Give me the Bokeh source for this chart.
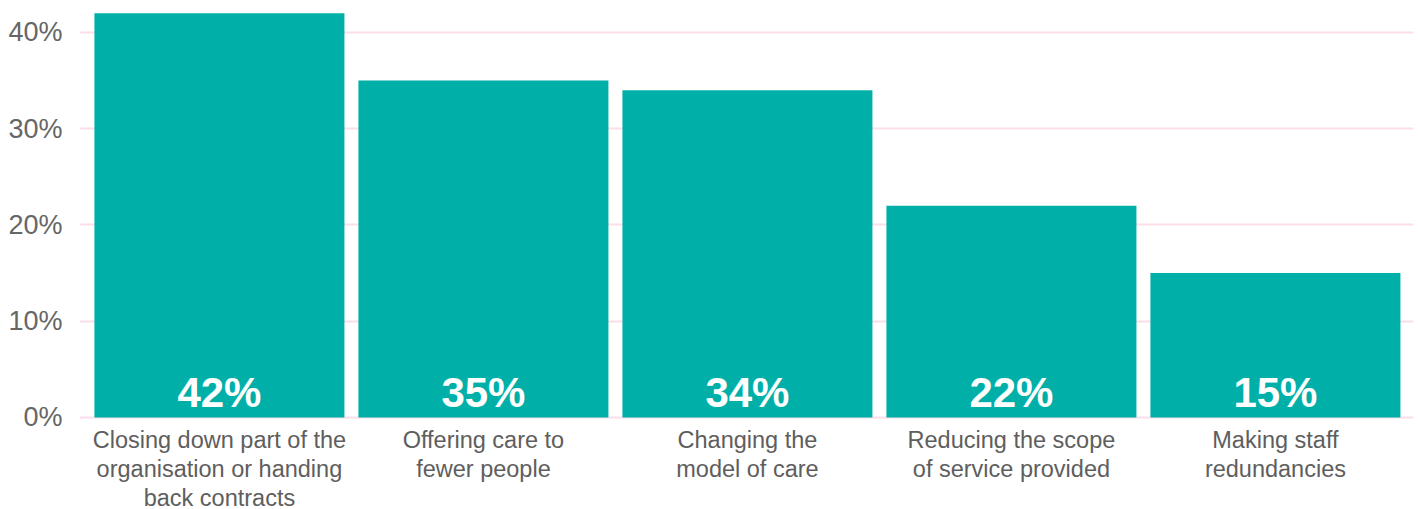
from bokeh.plotting import figure
from bokeh.models import ColumnDataSource, FixedTicker, Range1d
from bokeh.core.properties import value
from bokeh.embed import file_html
from bokeh.resources import INLINE

categories = [
    "Closing down part of the\norganisation or handing\nback contracts",
    "Offering care to\nfewer people",
    "Changing the\nmodel of care",
    "Reducing the scope\nof service provided",
    "Making staff\nredundancies",
]
values = [42, 35, 34, 22, 15]
y_ticks = [0, 10, 20, 30, 40]

xs = list(range(len(values)))
src = ColumnDataSource(dict(
    x=xs,
    top=values,
    zero=[0] * len(values),
    lbl=[f"{v}%" for v in values],
))

# split category labels into separate lines (one text per line)
lx, ly, lt, loff = [], [], [], []
for i, c in enumerate(categories):
    for j, line in enumerate(c.split("\n")):
        lx.append(i)
        ly.append(0)
        lt.append(line)
        loff.append(j)
line_src = ColumnDataSource(dict(x=lx, y=ly, text=lt, off=[10 + 29 * k for k in loff]))

FONT = "Liberation Sans"

p = figure(width=1418, height=509, output_backend="svg", toolbar_location=None,
           x_range=Range1d(-0.530, 4.523), y_range=Range1d(-9.56, 43.32),
           min_border_left=79, min_border_right=5, min_border_top=0, min_border_bottom=0)
p.outline_line_color = None
p.background_fill_color = "white"

p.vbar(x="x", top="top", bottom=0, width=0.947, source=src, color="#00B0A8", line_color=None)

p.text(x="x", y="zero", text="lbl", source=src, text_color="white",
       text_font=value(FONT), text_font_style="bold", text_font_size="42px",
       text_align="center", text_baseline="bottom", y_offset=-1)

p.text(x="x", y="y", text="text", source=line_src, text_color="#5e5e5e",
       text_font=value(FONT), text_font_size="23.5px",
       text_align="center", text_baseline="top", y_offset="off")

p.xaxis.visible = False
p.yaxis.ticker = FixedTicker(ticks=y_ticks)
p.yaxis.major_label_overrides = {t: f"{t}%" for t in y_ticks}
p.yaxis.axis_line_color = None
p.yaxis.major_tick_line_color = None
p.yaxis.minor_tick_line_color = None
p.yaxis.major_label_text_font = FONT
p.yaxis.major_label_text_font_size = "27px"
p.yaxis.major_label_text_color = "#666666"
p.yaxis.major_label_standoff = 11

p.xgrid.grid_line_color = None
p.ygrid.ticker = FixedTicker(ticks=y_ticks)
p.ygrid.grid_line_color = "#F9DDE9"
p.ygrid.grid_line_width = 2

open("out.html", "w").write(file_html(p, INLINE))
